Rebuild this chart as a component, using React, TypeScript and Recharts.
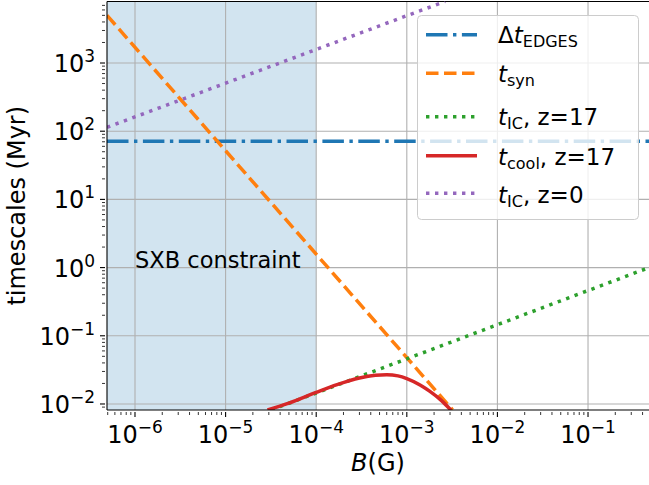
import {
  LineChart,
  Line,
  XAxis,
  YAxis,
  ReferenceArea,
  ReferenceLine,
  ReferenceDot,
  Legend,
} from 'recharts';

// axis limits (log scale)
const X_MIN = 4.91e-7;
const X_MAX = 0.471;
const Y_MIN = 8.16e-3;
const Y_MAX = 7980;

// Δt_EDGES
const edgesB = [4.91e-7, 0.471];
const edgesT = [71, 71];
// t_syn
const synB = [4.91e-7, 3.2e-3];
const synT = [5000, 0.0082];
// t_IC, z=17
const ic17B = [3.2e-5, 0.471];
const ic17T = [0.0082, 1.0];
// t_cool, z=17
const coolB = [2.9e-5, 5e-5, 1e-4, 1.7e-4, 3e-4, 4.5e-4, 6e-4, 8e-4, 1e-3, 1.4e-3, 1.8e-3, 2.4e-3, 3.08e-3];
const coolT = [0.0082, 0.0103, 0.0148, 0.0192, 0.024, 0.0263, 0.0268, 0.0258, 0.0236, 0.019, 0.0153, 0.0113, 0.0081];
// t_IC, z=0
const ic0B = [4.91e-7, 2.65e-3];
const ic0T = [114, 8000];

// SXB shaded region upper limit
const sxbLimit = 1e-4;

const xMajor = [1e-6, 1e-5, 1e-4, 1e-3, 1e-2, 1e-1];
const xMajorLabels = ['\u22126', '\u22125', '\u22124', '\u22123', '\u22122', '\u22121'];
const yMajor = [1e-2, 1e-1, 1, 10, 100, 1000];
const yMajorLabels = ['\u22122', '\u22121', '0', '1', '2', '3'];
const minorSteps = [2, 3, 4, 5, 6, 7, 8, 9];

const colors = {
  edges: '#1f77b4',
  syn: '#ff7f0e',
  ic17: '#2ca02c',
  cool: '#d62728',
  ic0: '#9467bd',
  grid: '#b0b0b0',
};

const dashDot = '21.5 5.5 3.4 5.5';
const dashed = '12.5 5.5';
const dotted = '3.4 5.6';
const LW = 3.5;
const FONT = 'DejaVu Sans';

const toPoints = (b: number[], t: number[]) => b.map((B, i) => ({ B, t: t[i] }));

const withMinors = (majors: number[], lo: number, hi: number) => {
  const out: number[] = [];
  majors.concat([majors[0] / 10, majors[majors.length - 1] * 10]).forEach((m) => {
    out.push(m);
    minorSteps.forEach((s) => out.push(m * s));
  });
  return out.filter((v) => v >= lo && v <= hi).sort((a, b) => a - b);
};

const xTicks = withMinors(xMajor, X_MIN, X_MAX);
const yTicks = withMinors(yMajor, Y_MIN, Y_MAX);

const XTick = (props: any) => {
  const { x, y, payload } = props;
  const idx = xMajor.indexOf(payload.value);
  const major = idx >= 0;
  return (
    <g>
      <line x1={x} x2={x} y1={y} y2={y + (major ? 5 : 3)} stroke="#000" strokeWidth={major ? 1.1 : 0.8} />
      {major && (
        <text x={x} y={y + 31} textAnchor="middle" fontFamily={FONT} fontSize={24} fill="#000">
          <tspan>10</tspan>
          <tspan dy={-10} fontSize={17}>{xMajorLabels[idx]}</tspan>
        </text>
      )}
    </g>
  );
};

const YTick = (props: any) => {
  const { x, y, payload } = props;
  const idx = yMajor.indexOf(payload.value);
  const major = idx >= 0;
  return (
    <g>
      <line x1={x} x2={x - (major ? 5 : 3)} y1={y} y2={y} stroke="#000" strokeWidth={major ? 1.1 : 0.8} />
      {major && (
        <text x={x - 10} y={y + 9} textAnchor="end" fontFamily={FONT} fontSize={24} fill="#000">
          <tspan>10</tspan>
          <tspan dy={-10} fontSize={17}>{yMajorLabels[idx]}</tspan>
        </text>
      )}
    </g>
  );
};

const legendRows = [
  { color: colors.edges, dash: dashDot, pre: '\u0394', sub: 'EDGES', post: '', hy: 19.7, by: 28.3 },
  { color: colors.syn, dash: dashed, pre: '', sub: 'syn', post: '', hy: 58.3, by: 67 },
  { color: colors.ic17, dash: dotted, pre: '', sub: 'IC', post: ', z=17', hy: 101.7, by: 110 },
  { color: colors.cool, dash: undefined, pre: '', sub: 'cool', post: ', z=17', hy: 140.7, by: 150 },
  { color: colors.ic0, dash: dotted, pre: '', sub: 'IC', post: ', z=0', hy: 178.3, by: 188 },
];

const LegendBox = () => (
  <svg width={223} height={206} style={{ display: 'block' }}>
    <rect x={0.5} y={0.5} width={221} height={204} rx={4} fill="#fff" fillOpacity={0.8} stroke="#cccccc" />
    {legendRows.map((r, i) => (
      <g key={i}>
        <line x1={9} x2={60} y1={r.hy} y2={r.hy} stroke={r.color} strokeWidth={LW} strokeDasharray={r.dash} />
        <text x={81} y={r.by} fontFamily={FONT} fontSize={23} fill="#000">
          {r.pre && <tspan>{r.pre}</tspan>}
          <tspan fontStyle="italic">t</tspan>
          <tspan dy={4} fontSize={16}>{r.sub}</tspan>
          {r.post && <tspan dy={-4}>{r.post}</tspan>}
        </text>
      </g>
    ))}
  </svg>
);

export default function App() {
  return (
    <div style={{ position: 'absolute', left: 0, top: 0, width: 649, height: 485, background: '#fff', fontFamily: FONT }}>
      <LineChart width={649} height={485} margin={{ top: 1.5, right: 0, bottom: 0, left: 0 }}>
        <XAxis
          dataKey="B"
          type="number"
          scale="log"
          domain={[X_MIN, X_MAX]}
          allowDataOverflow
          ticks={xTicks}
          interval={0}
          tick={<XTick />}
          tickLine={false}
          tickSize={0}
          height={75}
          axisLine={{ stroke: '#000', strokeWidth: 1.1 }}
          label={(p: any) => {
            const vb = p.viewBox;
            return (
              <text x={vb.x + vb.width / 2} y={vb.y + 61} textAnchor="middle" fontFamily={FONT} fontSize={24} fill="#000">
                <tspan fontStyle="italic">B</tspan>
                <tspan>(G)</tspan>
              </text>
            );
          }}
        />
        <YAxis
          dataKey="t"
          type="number"
          scale="log"
          domain={[Y_MIN, Y_MAX]}
          allowDataOverflow
          ticks={yTicks}
          interval={0}
          tick={<YTick />}
          tickLine={false}
          tickSize={0}
          width={107}
          axisLine={{ stroke: '#000', strokeWidth: 1.1 }}
          label={(p: any) => {
            const vb = p.viewBox;
            const cy = vb.y + vb.height / 2;
            return (
              <text x={25} y={cy} transform={`rotate(-90, 25, ${cy})`} textAnchor="middle" fontFamily={FONT} fontSize={24} fill="#000">
                timescales (Myr)
              </text>
            );
          }}
        />
        <ReferenceArea x1={X_MIN} x2={sxbLimit} y1={Y_MIN} y2={Y_MAX} fill={colors.edges} fillOpacity={0.2} stroke="none" />
        {xMajor.map((v) => (
          <ReferenceLine key={`gx${v}`} x={v} stroke={colors.grid} strokeWidth={1.1} />
        ))}
        {yMajor.map((v) => (
          <ReferenceLine key={`gy${v}`} y={v} stroke={colors.grid} strokeWidth={1.1} />
        ))}
        <ReferenceLine y={Y_MAX} stroke="#000" strokeWidth={1.1} />
        <ReferenceDot
          x={1e-6}
          y={1}
          r={0}
          shape={(p: any) => (
            <text x={p.cx} y={p.cy} fontFamily={FONT} fontSize={22.5} fill="#000">
              SXB constraint
            </text>
          )}
        />
        <Line data={toPoints(edgesB, edgesT)} dataKey="t" type="linear" stroke={colors.edges} strokeWidth={LW} strokeDasharray={dashDot} dot={false} isAnimationActive={false} />
        <Line data={toPoints(synB, synT)} dataKey="t" type="linear" stroke={colors.syn} strokeWidth={LW} strokeDasharray={dashed} dot={false} isAnimationActive={false} />
        <Line data={toPoints(ic17B, ic17T)} dataKey="t" type="linear" stroke={colors.ic17} strokeWidth={LW} strokeDasharray={dotted} dot={false} isAnimationActive={false} />
        <Line data={toPoints(coolB, coolT)} dataKey="t" type="monotone" stroke={colors.cool} strokeWidth={LW} dot={false} isAnimationActive={false} />
        <Line data={toPoints(ic0B, ic0T)} dataKey="t" type="linear" stroke={colors.ic0} strokeWidth={LW} strokeDasharray={dotted} dot={false} isAnimationActive={false} />
        <Legend
          layout="horizontal"
          verticalAlign="middle"
          align="center"
          content={() => <LegendBox />}
          wrapperStyle={{ left: 417, top: 15, width: 223, height: 206 }}
        />
      </LineChart>
    </div>
  );
}
